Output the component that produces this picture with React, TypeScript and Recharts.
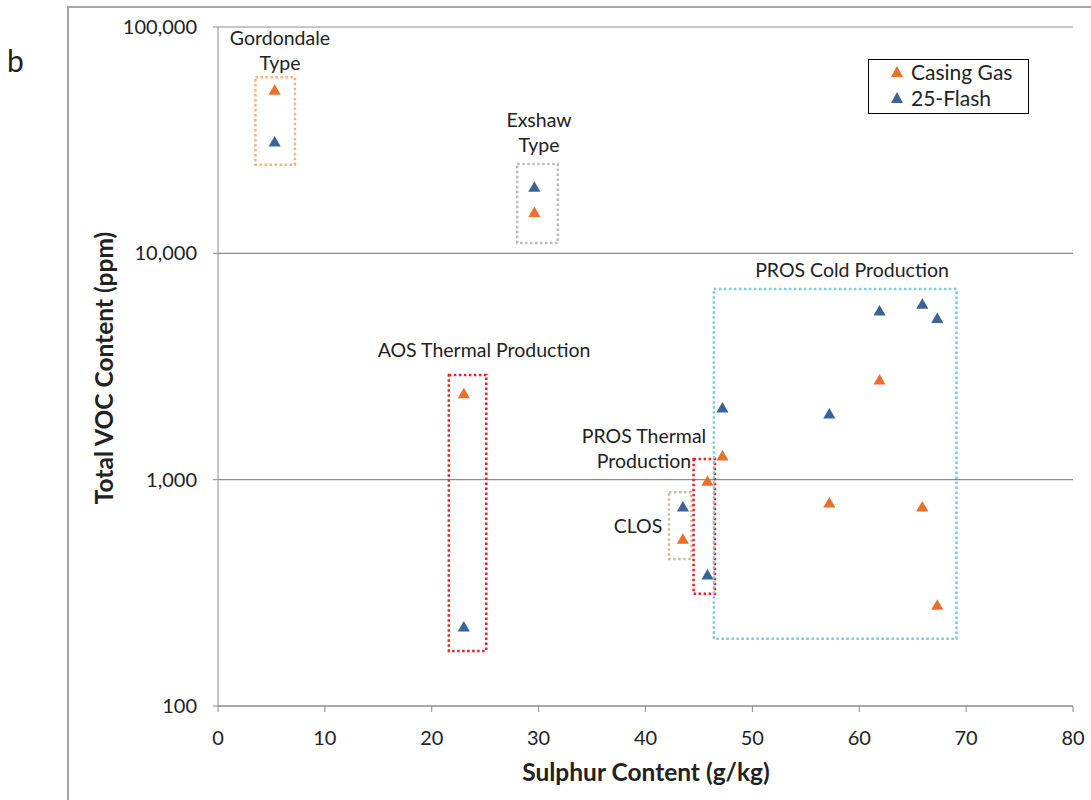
import React from "react";
import {
  CartesianGrid,
  ReferenceArea,
  Scatter,
  ScatterChart,
  XAxis,
  YAxis,
} from "recharts";

// sulphur content (g/kg) for each sample group
const sulphur = [5.3, 29.6, 23.0, 43.5, 45.8, 47.2, 57.2, 61.9, 65.9, 67.3];
// total VOC content (ppm)
const casingGas = [52000, 15000, 2370, 540, 975, 1260, 780, 2730, 750, 276];
const flash25 = [30700, 19400, 221, 750, 375, 2050, 1930, 5500, 5900, 5100];

const xTicks = [0, 10, 20, 30, 40, 50, 60, 70, 80];
const yTicks = [100, 1000, 10000, 100000];

// dotted grouping boxes: [x1, x2, y1, y2, colour]
const boxes: [number, number, number, number, string][] = [
  [3.5, 7.2, 24600, 60000, "#F8B27C"],
  [28.0, 31.8, 11100, 24800, "#BDBDBD"],
  [21.6, 25.1, 175, 2900, "#EE1C24"],
  [42.2, 44.3, 446, 880, "#C8BE9C"],
  [44.5, 46.5, 313, 1233, "#EE1C24"],
  [46.4, 69.1, 198, 6950, "#7CC8DC"],
];

const ORANGE = "#E8702A";
const BLUE = "#3A6497";
const FONT = "Lato, 'Open Sans', sans-serif";

const casingData = sulphur.map((s, i) => ({ x: s, y: casingGas[i] }));
const flashData = sulphur.map((s, i) => ({ x: s, y: flash25[i] }));

const fmt = (v: number) => v.toLocaleString("en-US");

function Tri({ color }: { color: string }) {
  return (
    <svg width={12} height={11} style={{ display: "block" }}>
      <polygon points="6,0 12,11 0,11" fill={color} />
    </svg>
  );
}

function LegendBox() {
  const row = (color: string, label: string) => (
    <div style={{ display: "flex", alignItems: "center", height: 26 }}>
      <div style={{ width: 14, marginLeft: 22 }}>
        <Tri color={color} />
      </div>
      <span style={{ marginLeft: 6, fontSize: 21, color: "#222" }}>{label}</span>
    </div>
  );
  return (
    <div
      style={{
        position: "absolute",
        left: 868,
        top: 59,
        border: "1.5px solid #000",
        width: 161,
        height: 55,
        boxSizing: "border-box",
        fontFamily: FONT,
        paddingTop: 0,
        background: "#fff",
      }}
    >
      <div style={{ marginTop: -2 }}>
        {row(ORANGE, "Casing Gas")}
        {row(BLUE, "25-Flash")}
      </div>
    </div>
  );
}

const txt = { fontFamily: FONT, fontSize: 19.5, fill: "#222" } as const;

export default function App() {
  return (
    <div style={{ position: "absolute", left: 0, top: 0, width: 1091, height: 800, background: "#fff", overflow: "hidden" }}>
      <div style={{ position: "absolute", left: 67, top: 6, width: 1030, height: 1.5, background: "#A6A6A6" }} />
      <div style={{ position: "absolute", left: 67, top: 6, width: 1.5, height: 800, background: "#A6A6A6" }} />
      <div
        style={{
          position: "absolute",
          left: 7,
          top: 42,
          fontFamily: FONT,
          fontSize: 30,
          color: "#222",
        }}
      >
        b
      </div>
      <div style={{ position: "absolute", left: 0, top: 0 }}>
        <ScatterChart width={1091} height={800} margin={{ top: 27, right: 18, bottom: 64, left: 0 }}>
          <CartesianGrid vertical={false} stroke="#8C8C8C" strokeWidth={1.2} />
          <XAxis
            type="number"
            dataKey="x"
            domain={[0, 80]}
            ticks={xTicks}
            interval={0}
            stroke="#8C8C8C"
            tickSize={6}
            tickMargin={19}
            tick={{ fontFamily: FONT, fontSize: 20, fill: "#222" }}
          />
          <YAxis
            type="number"
            dataKey="y"
            scale="log"
            domain={[100, 100000]}
            ticks={yTicks}
            interval={0}
            allowDataOverflow
            width={218}
            stroke="#8C8C8C"
            tickSize={5}
            tickMargin={16}
            tickFormatter={fmt}
            tick={{ fontFamily: FONT, fontSize: 20, fill: "#222" }}
          />
          {boxes.map(([x1, x2, y1, y2, c], i) => (
            <ReferenceArea
              key={i}
              x1={x1}
              x2={x2}
              y1={y1}
              y2={y2}
              fill="none"
              stroke={c}
              strokeWidth={2.5}
              strokeDasharray="2.5 2.5"
              ifOverflow="visible"
            />
          ))}
          <Scatter name="Casing Gas" data={casingData} fill={ORANGE} shape="triangle" size={72} isAnimationActive={false} />
          <Scatter name="25-Flash" data={flashData} fill={BLUE} shape="triangle" size={72} isAnimationActive={false} />

          <text x={280} y={45} textAnchor="middle" {...txt}>Gordondale</text>
          <text x={280} y={70} textAnchor="middle" {...txt}>Type</text>
          <text x={539} y={127} textAnchor="middle" {...txt}>Exshaw</text>
          <text x={539} y={152} textAnchor="middle" {...txt}>Type</text>
          <text x={484} y={357} textAnchor="middle" {...txt}>AOS Thermal Production</text>
          <text x={644} y={443} textAnchor="middle" {...txt}>PROS Thermal</text>
          <text x={644} y={468} textAnchor="middle" {...txt}>Production</text>
          <text x={638} y={533} textAnchor="middle" {...txt}>CLOS</text>
          <text x={852} y={277} textAnchor="middle" {...txt}>PROS Cold Production</text>

          <text x={646} y={781} textAnchor="middle" fontFamily={FONT} fontSize={24.5} fontWeight="bold" fill="#222">
            Sulphur Content (g/kg)
          </text>
          <text
            x={103}
            y={368}
            textAnchor="middle"
            dominantBaseline="central"
            transform="rotate(-90 103 368)"
            fontFamily={FONT}
            fontSize={24.5}
            fontWeight="bold"
            fill="#222"
          >
            Total VOC Content (ppm)
          </text>
        </ScatterChart>
      </div>
      <LegendBox />
    </div>
  );
}
